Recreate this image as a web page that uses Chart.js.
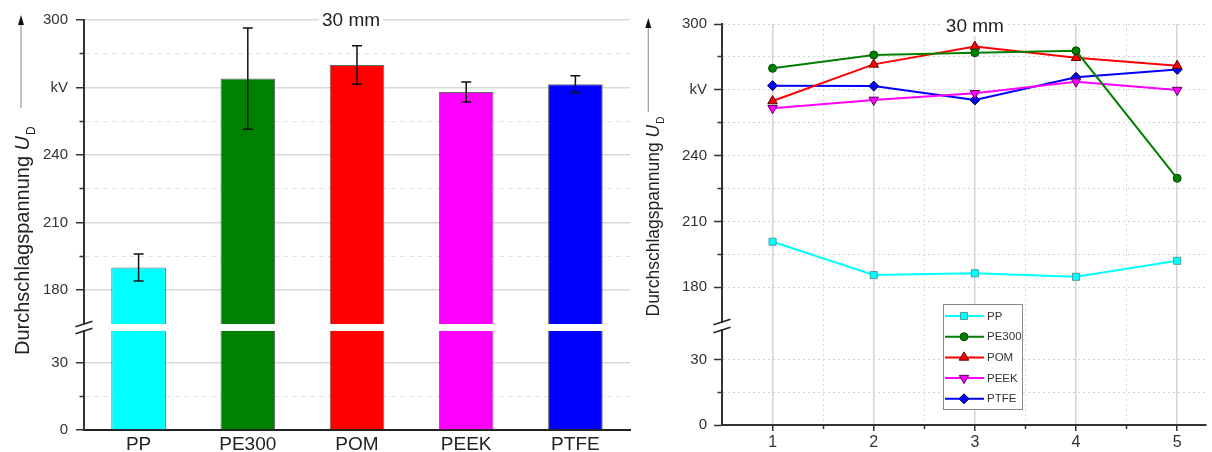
<!DOCTYPE html>
<html>
<head>
<meta charset="utf-8">
<script src="https://cdn.jsdelivr.net/npm/chart.js@4.4.1/dist/chart.umd.min.js"></script>
<style>
  html, body { margin: 0; padding: 0; background: #fff; }
  #wrap { position: relative; width: 1212px; height: 452px; }
  .cell { position: absolute; top: 0; height: 452px; }
  #left { left: 0; width: 640px; }
  #right { left: 640px; width: 572px; }
</style>
</head>
<body>
<div id="wrap">
  <div class="cell" id="left"><canvas id="bars"></canvas></div>
  <div class="cell" id="right"><canvas id="runs"></canvas></div>
</div>
<script>
// Breakdown voltage, 30 mm gap: mean per material (left) and per run (right).
const MATERIALS = ["PP", "PE300", "POM", "PEEK", "PTFE"];
const MEAN_KV = [190, 274, 280, 268, 271.5];
const ERR_KV = [6, 22.5, 8.6, 4.4, 3.7];

const RUNS = [1, 2, 3, 4, 5];
const PP_KV = [200.8, 185.6, 186.4, 184.8, 192.1];
const PE300_KV = [279.8, 285.9, 286.9, 287.8, 229.7];
const POM_KV = [264.9, 281.6, 289.7, 284.6, 281.0];
const PEEK_KV = [261.6, 265.4, 268.4, 273.7, 269.9];
const PTFE_KV = [271.9, 271.7, 265.4, 275.7, 279.3];

const UPPER_TICKS = [180, 195, 210, 225, 240, 255, 270, 285, 300];
const LOWER_TICKS = [0, 15, 30];
const RUN_TICKS = [1, 1.5, 2, 2.5, 3, 3.5, 4, 4.5, 5];

const FONT = 'Arial, "Liberation Sans", sans-serif';
const COLORS = ["#00ffff", "#008000", "#ff0000", "#ff00ff", "#0000ff"];

const isMajor = (v) => v % 30 === 0;
const kvLabel = (v) => (v === 270 ? "kV" : isMajor(v) ? String(v) : "");
const tickVal = (c) => (c && c.tick ? c.tick.value : null);

// one section of the broken y axis (sections are stacked)
function ySection(o) {
  return {
    type: "linear",
    position: "left",
    stack: "v",
    weight: o.weight,
    stackWeight: o.stackWeight,
    min: o.min,
    max: o.max,
    afterBuildTicks: (s) => { s.ticks = o.ticks.map((v) => ({ value: v })); },
    afterFit: (s) => { s.width = o.width; },
    ticks: {
      callback: kvLabel, autoSkip: false, color: "#333", padding: o.pad,
      font: { family: FONT, size: 15 },
    },
    grid: {
      color: o.gridColor,
      lineWidth: (c) => (o.solidMajor && isMajor(tickVal(c)) ? 1.5 : 1),
      tickLength: 8, tickWidth: 1.5, tickColor: "#333",
      // minor ticks: only the half next to the axis line
      tickBorderDash: (c) => (isMajor(tickVal(c)) ? [] : [0, 3.5, 6, 20]),
    },
    border: {
      color: "#333", width: 2,
      dash: (c) => (c.tick && (!o.solidMajor || !isMajor(c.tick.value)) ? o.dash : []),
    },
  };
}
const gapSection = (weight, stackWeight) => ({
  type: "linear", position: "left", stack: "v", display: false, weight, stackWeight,
});

function drawYTitle(ctx, o) {
  ctx.save();
  ctx.strokeStyle = "#9a9a9a";
  ctx.lineWidth = 1.2;
  ctx.beginPath();
  ctx.moveTo(o.ax, o.aBottom);
  ctx.lineTo(o.ax, o.aTip + 8);
  ctx.stroke();
  ctx.fillStyle = "#111";
  ctx.beginPath();
  ctx.moveTo(o.ax, o.aTip);
  ctx.lineTo(o.ax - 3, o.aTip + 10);
  ctx.lineTo(o.ax + 3, o.aTip + 10);
  ctx.closePath();
  ctx.fill();

  ctx.translate(o.x, o.y);
  ctx.rotate(-Math.PI / 2);
  ctx.fillStyle = "#222";
  ctx.textAlign = "left";
  ctx.textBaseline = "alphabetic";
  const main = "Durchschlagspannung ";
  ctx.font = `${o.size}px ${FONT}`;
  ctx.fillText(main, 0, 0);
  let w = ctx.measureText(main).width;
  ctx.font = `italic ${o.size}px ${FONT}`;
  ctx.fillText("U", w, 0);
  w += ctx.measureText("U").width;
  ctx.font = `${Math.round(o.size * 0.58)}px ${FONT}`;
  ctx.fillText("D", w + 1, o.size * 0.32);
  ctx.restore();
}

function drawLabel(ctx, text, cx, baseline) {
  ctx.save();
  ctx.font = `19px ${FONT}`;
  const w = ctx.measureText(text).width;
  ctx.fillStyle = "#fff";
  ctx.fillRect(cx - w / 2 - 3, baseline - 16, w + 6, 20);
  ctx.fillStyle = "#222";
  ctx.textAlign = "center";
  ctx.textBaseline = "alphabetic";
  ctx.fillText(text, cx, baseline);
  ctx.restore();
}

function drawBreak(ctx, x, ys) {
  ctx.save();
  ctx.strokeStyle = "#222";
  ctx.lineWidth = 1.5;
  ys.forEach((y) => {
    ctx.beginPath();
    ctx.moveTo(x - 8.5, y + 2.8);
    ctx.lineTo(x + 8.5, y - 2.8);
    ctx.stroke();
  });
  ctx.restore();
}

const decorations = {
  id: "decorations",
  afterDraw(chart, args, o) {
    const { ctx, scales } = chart;
    drawBreak(ctx, chart.chartArea.left, [scales.yTop.bottom, scales.yBot.top]);
    drawYTitle(ctx, o.title);
    const cx = o.labelAtRun ? scales.x.getPixelForValue(o.labelAtRun) : o.labelX;
    drawLabel(ctx, "30 mm", cx, o.labelBaseline);
  },
};

const errorBars = {
  id: "errorBars",
  afterDatasetsDraw(chart) {
    const { ctx } = chart;
    const y = chart.scales.yTop;
    const meta = chart.getDatasetMeta(0);
    ctx.save();
    ctx.strokeStyle = "#111";
    ctx.lineWidth = 1.5;
    meta.data.forEach((bar, i) => {
      const hi = y.getPixelForValue(MEAN_KV[i] + ERR_KV[i]);
      const lo = y.getPixelForValue(MEAN_KV[i] - ERR_KV[i]);
      ctx.beginPath();
      ctx.moveTo(bar.x, hi); ctx.lineTo(bar.x, lo);
      ctx.moveTo(bar.x - 5, hi); ctx.lineTo(bar.x + 5, hi);
      ctx.moveTo(bar.x - 5, lo); ctx.lineTo(bar.x + 5, lo);
      ctx.stroke();
    });
    ctx.restore();
  },
};

const boxLegend = {
  id: "boxLegend",
  afterDraw(chart) {
    const { ctx, chartArea } = chart;
    const left = chartArea.left + 221, top = 304;
    const dp = Chart.helpers && Chart.helpers.drawPoint;
    ctx.save();
    ctx.fillStyle = "#fff";
    ctx.fillRect(left, top, 79, 105);
    ctx.strokeStyle = "#8a8a8a";
    ctx.lineWidth = 1;
    ctx.strokeRect(left + 0.5, top + 0.5, 79, 105);
    chart.data.datasets.forEach((ds, i) => {
      const y = top + 12 + i * 20.7;
      ctx.strokeStyle = ds.borderColor;
      ctx.lineWidth = 2;
      ctx.beginPath();
      ctx.moveTo(left + 2, y);
      ctx.lineTo(left + 41, y);
      ctx.stroke();
      ctx.fillStyle = ds.pointBackgroundColor;
      ctx.strokeStyle = ds.pointBorderColor;
      ctx.lineWidth = 1;
      if (dp) dp(ctx, { pointStyle: ds.pointStyle, radius: ds.pointRadius, rotation: ds.pointRotation || 0, borderWidth: 1 }, left + 21, y);
      ctx.fillStyle = "#333";
      ctx.font = `11.5px ${FONT}`;
      ctx.textAlign = "left";
      ctx.textBaseline = "middle";
      ctx.fillText(ds.label, left + 44, y + 0.5);
    });
    ctx.restore();
  },
};

// ---------- left: bar chart with error bars ----------
const leftGrid = (c) => {
  const v = tickVal(c);
  if (v === 0) return "rgba(0,0,0,0)";
  return isMajor(v) ? "#d9d9d9" : "#e2e2e2";
};
const barStyle = {
  backgroundColor: COLORS,
  borderColor: "rgba(50,50,50,0.75)",
  borderWidth: 1,
  barPercentage: 0.5,
  categoryPercentage: 1,
  grouped: false,
  clip: 0,
};

new Chart(document.getElementById("bars"), {
  type: "bar",
  data: {
    labels: MATERIALS,
    datasets: [
      { ...barStyle, data: MEAN_KV, yAxisID: "yTop" },
      { ...barStyle, data: MEAN_KV, yAxisID: "yBot" },
    ],
  },
  options: {
    responsive: true,
    maintainAspectRatio: false,
    animation: false,
    layout: { padding: { top: 20, right: 10, left: 0, bottom: 0 } },
    plugins: {
      legend: { display: false },
      tooltip: { enabled: false },
      decorations: {
        title: { x: 28.5, y: 355, size: 20, ax: 21, aTip: 15, aBottom: 108 },
        labelX: 351, labelBaseline: 26,
      },
    },
    scales: {
      x: {
        type: "category",
        afterFit: (s) => { s.height = 22; },
        grid: { display: false, drawTicks: false },
        border: { color: "#222", width: 2 },
        ticks: { color: "#222", font: { family: FONT, size: 19 }, padding: 3 },
      },
      yTop: ySection({ weight: 3, stackWeight: 304, min: 164.9, max: 300, ticks: UPPER_TICKS, width: 84, pad: 8, gridColor: leftGrid, solidMajor: true, dash: [5, 4] }),
      yGap: gapSection(2, 7),
      yBot: ySection({ weight: 1, stackWeight: 99, min: 0, max: 44.3, ticks: LOWER_TICKS, width: 84, pad: 8, gridColor: leftGrid, solidMajor: true, dash: [5, 4] }),
    },
  },
  plugins: [errorBars, decorations],
});

// ---------- right: per-run line chart ----------
const rightGrid = (c) => (tickVal(c) === 0 ? "rgba(0,0,0,0)" : "#d3d3d3");
const pts = (vals) => RUNS.map((r, i) => ({ x: r, y: vals[i] }));
const line = (label, vals, color, edge, pointStyle, pointRadius, pointRotation) => ({
  label, data: pts(vals), yAxisID: "yTop",
  borderColor: color, borderWidth: 2,
  pointBackgroundColor: color, pointBorderColor: edge, pointBorderWidth: 1,
  pointStyle, pointRadius, pointRotation: pointRotation || 0,
});

new Chart(document.getElementById("runs"), {
  type: "line",
  data: {
    datasets: [
      line("PP", PP_KV, COLORS[0], "#4d9e9e", "rect", 5),
      line("PE300", PE300_KV, COLORS[1], "#004a00", "circle", 4),
      line("POM", POM_KV, COLORS[2], "#5a0000", "triangle", 5.5),
      line("PEEK", PEEK_KV, COLORS[3], "#5a005a", "triangle", 5.5, 180),
      line("PTFE", PTFE_KV, COLORS[4], "#00003a", "rectRot", 5),
    ],
  },
  options: {
    responsive: true,
    maintainAspectRatio: false,
    animation: false,
    layout: { padding: { top: 24, right: 0, left: 0, bottom: 0 } },
    plugins: {
      legend: { display: false },
      tooltip: { enabled: false },
      decorations: {
        title: { x: 18.5, y: 316.5, size: 17.5, ax: 8.3, aTip: 18, aBottom: 112 },
        labelAtRun: 3, labelBaseline: 32,
      },
    },
    scales: {
      x: {
        type: "linear",
        min: 0.5,
        max: 5.28,
        afterBuildTicks: (s) => { s.ticks = RUN_TICKS.map((v) => ({ value: v })); },
        afterFit: (s) => { s.height = 27; },
        ticks: {
          callback: (v) => (Number.isInteger(v) ? String(v) : ""),
          autoSkip: false, maxRotation: 0, color: "#333", padding: 2,
          font: { family: FONT, size: 16 },
        },
        grid: {
          color: (c) => (Number.isInteger(tickVal(c)) ? "#d4d4d4" : "#dadada"),
          lineWidth: (c) => (Number.isInteger(tickVal(c)) ? 1.5 : 1),
          tickLength: 6, tickWidth: 1.5, tickColor: "#333",
          tickBorderDash: (c) => (Number.isInteger(tickVal(c)) ? [] : [3, 20]),
        },
        border: {
          color: "#333", width: 2,
          dash: (c) => (c.tick && !Number.isInteger(c.tick.value) ? [2, 3] : []),
        },
      },
      yTop: ySection({ weight: 3, stackWeight: 298, min: 164.2, max: 300, ticks: UPPER_TICKS, width: 82, pad: 7, gridColor: rightGrid, solidMajor: false, dash: [2, 3] }),
      yGap: gapSection(2, 8),
      yBot: ySection({ weight: 1, stackWeight: 95, min: 0, max: 43.8, ticks: LOWER_TICKS, width: 82, pad: 7, gridColor: rightGrid, solidMajor: false, dash: [2, 3] }),
    },
  },
  plugins: [decorations, boxLegend],
});
</script>
</body>
</html>
